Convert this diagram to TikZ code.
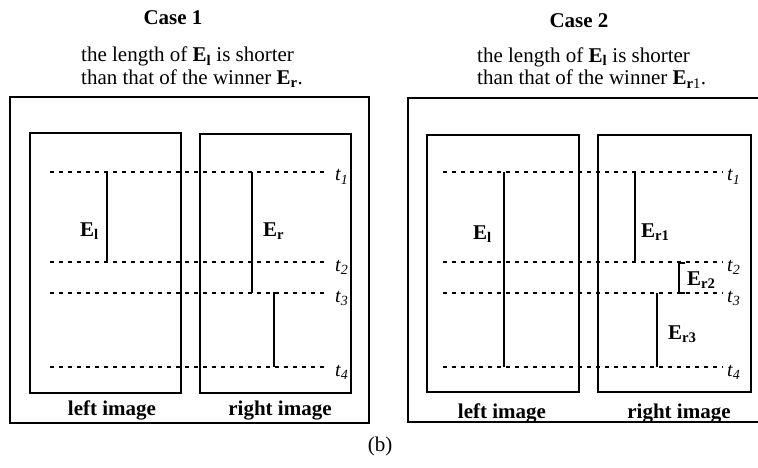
\documentclass[tikz,border=0pt]{standalone}
\usepackage{fontspec}
\setmainfont{Liberation Serif}
\begin{document}
\begin{tikzpicture}[x=1pt,y=-1pt,
  every node/.style={inner sep=0pt, font=\fontsize{21}{20.5}\selectfont},
  caption/.style={align=left, anchor=base west, font=\fontsize{21}{22.5}\selectfont},
  frame/.style={line width=1.8pt},
  outer/.style={line width=1.3pt},
  tline/.style={dash pattern=on 4pt off 5pt, line width=1.4pt},
  edgeline/.style={line width=2.4pt},
  lbl/.style={font=\fontsize{21}{21}\selectfont\bfseries},
  tlab/.style={anchor=base west, font=\fontsize{20}{21}\selectfont\itshape}]
\useasboundingbox (0,0) rectangle (758,468);

% titles and captions
\node[lbl, anchor=base] (c1) at (173,25) {Case 1};
\node[lbl, anchor=base] (c2) at (579,28) {Case 2};
\node[caption] (c1a) at (81,84.5) {the length of \textbf{E}\textsubscript{\textbf{l}} is shorter\\than that of the winner \textbf{E}\textsubscript{\textbf{r}}.};
\node[caption] (c2a) at (477,85) {the length of \textbf{E}\textsubscript{\textbf{l}} is shorter\\than that of the winner \textbf{E}\textsubscript{\textbf{r}1}.};

% outer boxes
\draw[outer] (10,97) rectangle (369,423);
\draw[outer] (758,98) -- (408,98) -- (408,422) -- (758,422);

% image frames
\draw[frame] (30,133) rectangle (181,393);
\draw[frame] (200,134) rectangle (351,393);
\draw[frame] (427,135) rectangle (579,392);
\draw[frame] (598,135) rectangle (751,392);

% time lines
\foreach \i/\y in {1/172,2/262,3/293,4/367}{
  \coordinate (Aa\i) at (50,\y);
  \coordinate (Ab\i) at (325,\y);
  \coordinate (Ba\i) at (443,\y);
  \coordinate (Bb\i) at (723,\y);
  \draw[tline] (Aa\i) -- (Ab\i);
  \draw[tline] (Ba\i) -- (Bb\i);
  \node[tlab] (tA\i) at (335,\y+9) {t\textsubscript{\i}};
  \node[tlab] (tB\i) at (727,\y+9) {t\textsubscript{\i}};
}

% Case 1 edges
\coordinate (e1t) at (107,172); \coordinate (e1b) at (107,262);
\coordinate (e2t) at (252,172); \coordinate (e2b) at (252,293);
\coordinate (e3t) at (274,292); \coordinate (e3b) at (274,367);
\draw[edgeline] (e1t) -- (e1b);
\draw[edgeline] (e2t) -- (e2b);
\draw[edgeline] (e3t) -- (e3b);
\node[lbl, anchor=base west] (El1) at (80,236) {E\textsubscript{l}};
\node[lbl, anchor=base west] (Er) at (263,236) {E\textsubscript{r}};

% Case 2 edges
\coordinate (f1t) at (504,172); \coordinate (f1b) at (504,367);
\coordinate (f2t) at (635,172); \coordinate (f2b) at (635,262);
\coordinate (f3t) at (685,263); \coordinate (f3a) at (679,263);
\coordinate (f3c) at (679,293); \coordinate (f3b) at (685,293);
\coordinate (f4t) at (657,293); \coordinate (f4b) at (657,367);
\draw[edgeline] (f1t) -- (f1b);
\draw[edgeline] (f2t) -- (f2b);
\draw[edgeline, line width=2pt] (f3t) -- (f3a) -- (f3c) -- (f3b);
\draw[edgeline] (f4t) -- (f4b);
\node[lbl, anchor=base west] (El2) at (473,239) {E\textsubscript{l}};
\node[lbl, anchor=base west] (Er1) at (641,237) {E\textsubscript{r1}};
\node[lbl, anchor=base west] (Er2) at (687,285) {E\textsubscript{r2}};
\node[lbl, anchor=base west] (Er3) at (668,339) {E\textsubscript{r3}};

% image labels
\node[lbl, anchor=base] (li1) at (112,415) {left image};
\node[lbl, anchor=base] (ri1) at (280,415) {right image};
\node[lbl, anchor=base] (li2) at (502,418) {left image};
\node[lbl, anchor=base] (ri2) at (679,418) {right image};

\node[anchor=base] (b) at (380,451) {(b)};
\end{tikzpicture}
\end{document}
